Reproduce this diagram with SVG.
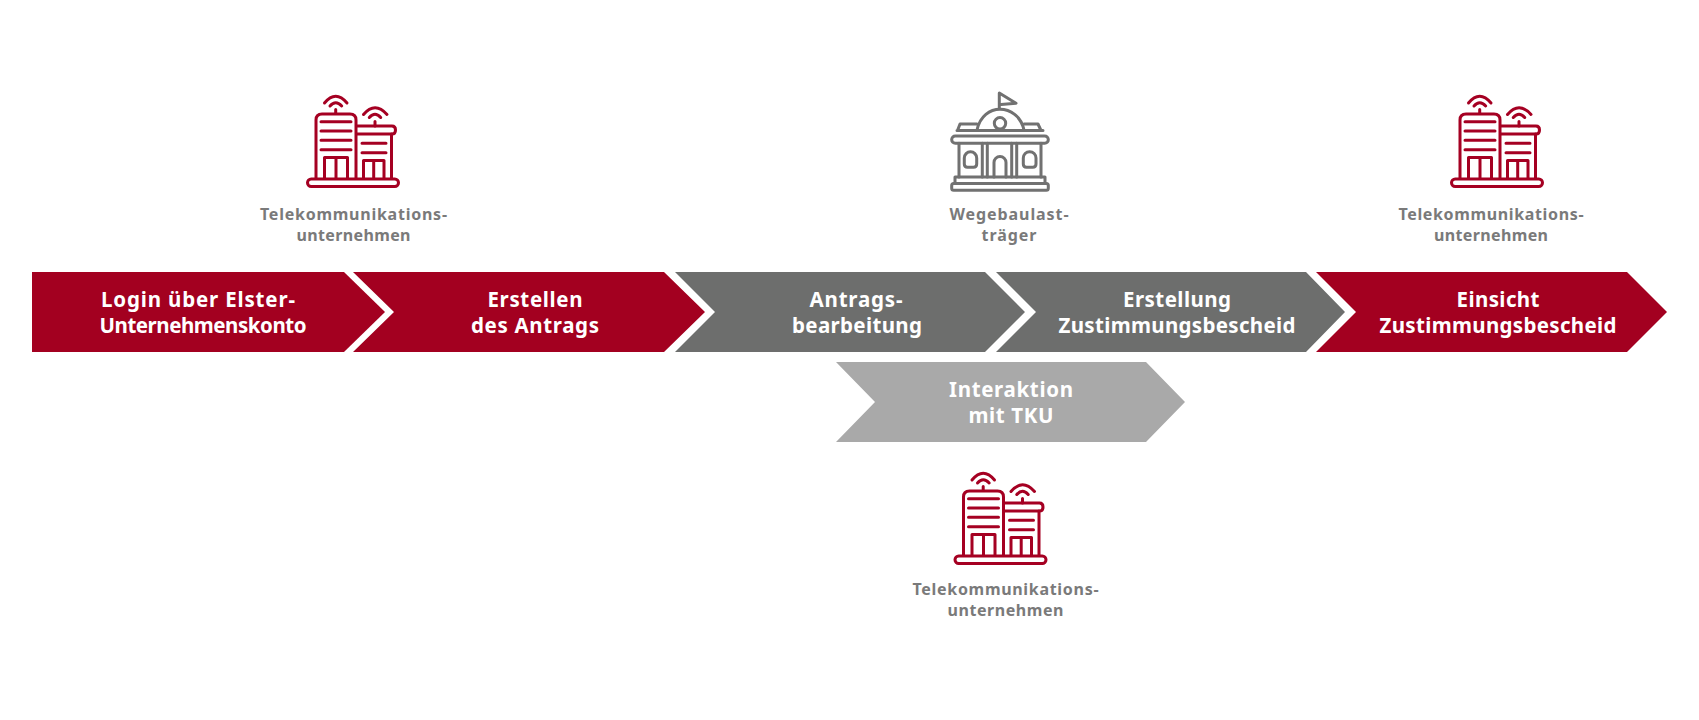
<svg xmlns="http://www.w3.org/2000/svg" xmlns:xlink="http://www.w3.org/1999/xlink" width="1699" height="720" viewBox="0 0 1699 720">
<style>
.red{fill:#a30020}.dark{fill:#6d6e6d}.light{fill:#a9a9a9}
.a{font-family:"Noto Sans","Open Sans","DejaVu Sans",sans-serif;font-weight:700;font-size:20.500px;fill:#fff;text-anchor:middle}
.l{font-family:"Noto Sans","Open Sans","DejaVu Sans",sans-serif;font-weight:700;font-size:16px;fill:#7a7a7a;text-anchor:middle}
.ir{fill:none;stroke:#a50022;stroke-width:3;stroke-linecap:round;stroke-linejoin:round}
.ig{fill:none;stroke:#717171;stroke-width:3;stroke-linecap:round;stroke-linejoin:round}
</style>
<defs>
<g id="tku" class="ir">
<path d="M36 99V40Q36 34 42 34H70Q76 34 76 40V99"/>
<path d="M77 46H112Q115.500 46 115.500 50Q115.500 54 112 54H77"/>
<path d="M111.500 54V99"/>
<path d="M41 41.700H71M41 51H71M41 60.300H71M41 69.700H71"/>
<path d="M44.500 99V77.500H67.500V99M56 77.500V99"/>
<path d="M82 63.300H106M82 72.700H106"/>
<path d="M83.500 99V80.500H104V99M93.700 80.500V99"/>
<path d="M55.700 29.500V33.500M44.500 23Q55.700 9.500 67 23M50 26Q55.700 19.500 61.700 26"/>
<path d="M95 41.500V46M83.500 34.500Q95 21 107 34.500M89.300 37.500Q95 31 100.700 37.500"/>
<rect x="27.500" y="99" width="91" height="7.500" rx="3.700" fill="#fff"/>
</g>
</defs>

<g id="step-login"><polygon class="red" points="32,272 344,272 385,312 344,352 32,352"/>
<text class="a" x="198" y="307" textLength="194" lengthAdjust="spacing">Login über Elster-</text>
<text class="a" x="203" y="333" textLength="207" lengthAdjust="spacing">Unternehmenskonto</text></g>
<g id="step-antrag"><polygon class="red" points="353,272 664,272 705,312 664,352 353,352 394,312"/>
<text class="a" x="535" y="307" textLength="95" lengthAdjust="spacing">Erstellen</text>
<text class="a" x="535" y="333" textLength="128" lengthAdjust="spacing">des Antrags</text></g>
<g id="step-bearbeitung"><polygon class="dark" points="675,272 985,272 1025,312 985,352 675,352 715,312"/>
<text class="a" x="856" y="307" textLength="93" lengthAdjust="spacing">Antrags-</text>
<text class="a" x="857" y="333" textLength="130" lengthAdjust="spacing">bearbeitung</text></g>
<g id="step-bescheid"><polygon class="dark" points="996,272 1306,272 1345,312 1306,352 996,352 1036,312"/>
<text class="a" x="1177" y="307" textLength="108" lengthAdjust="spacing">Erstellung</text>
<text class="a" x="1177" y="333" textLength="237" lengthAdjust="spacing">Zustimmungsbescheid</text></g>
<g id="step-einsicht"><polygon class="red" points="1316,272 1627,272 1667,312 1627,352 1316,352 1356,312"/>
<text class="a" x="1498" y="307" textLength="83" lengthAdjust="spacing">Einsicht</text>
<text class="a" x="1498" y="333" textLength="237" lengthAdjust="spacing">Zustimmungsbescheid</text></g>
<g id="step-interaktion"><polygon class="light" points="836,362 1146,362 1185,402 1146,442 836,442 875,402"/>
<text class="a" x="1011" y="397" textLength="124" lengthAdjust="spacing">Interaktion</text>
<text class="a" x="1011" y="423" textLength="85" lengthAdjust="spacing">mit TKU</text></g>

<g id="actor-tku-1"><use xlink:href="#tku" href="#tku" transform="translate(280 80)"/>
<text class="l" x="353.500" y="220" textLength="187" lengthAdjust="spacing">Telekommunikations-</text>
<text class="l" x="353.500" y="241" textLength="114" lengthAdjust="spacing">unternehmen</text></g>

<g id="actor-wegebaulasttraeger" transform="translate(930 80)">
<g class="ig">
<path d="M69.300 28V13L86 23.300L71 24.500"/>
<path d="M47 50C50 36 60 29.300 70 29.300C80 29.300 91 36 94 50"/>
<circle cx="70" cy="43.300" r="5.700"/>
<path d="M27.500 50.500L30 44H47M94 44H108L111 50.500M27 50.500H113"/>
<rect x="21.700" y="56" width="96.600" height="7.300" rx="3.600"/>
<path d="M29 63.300V97M111 63.300V97M52.300 63.300V97M57.300 63.300V97M81.700 63.300V97M86.700 63.300V97"/>
<path d="M64 97V82.500A6 6 0 0 1 76 82.500V97"/>
<path d="M34.300 78A6.200 6.200 0 0 1 46.700 78V84Q46.700 87.300 43.500 87.300H37.500Q34.300 87.300 34.300 84Z"/>
<path d="M93.300 78A6.300 6.300 0 0 1 106 78V84Q106 87.300 102.800 87.300H96.500Q93.300 87.300 93.300 84Z"/>
<path d="M25 103.500V97H115V103.500"/>
<rect x="21.700" y="103.500" width="96.600" height="6.800" rx="2"/>
</g>
<text class="l" x="79" y="140" textLength="119" lengthAdjust="spacing">Wegebaulast-</text>
<text class="l" x="79" y="161" textLength="55" lengthAdjust="spacing">träger</text>
</g>

<g id="actor-tku-2"><use xlink:href="#tku" href="#tku" transform="translate(1424 80)"/>
<text class="l" x="1491" y="220" textLength="185" lengthAdjust="spacing">Telekommunikations-</text>
<text class="l" x="1491" y="241" textLength="114" lengthAdjust="spacing">unternehmen</text></g>

<g id="actor-tku-3"><use xlink:href="#tku" href="#tku" transform="translate(927.500 457)"/>
<text class="l" x="1005.500" y="595" textLength="186" lengthAdjust="spacing">Telekommunikations-</text>
<text class="l" x="1005.500" y="616" textLength="116" lengthAdjust="spacing">unternehmen</text></g>
</svg>
